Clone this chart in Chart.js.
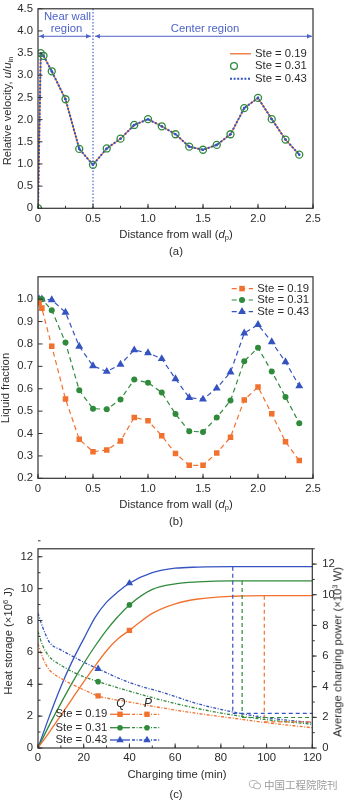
<!DOCTYPE html>
<html>
<head>
<meta charset="utf-8">
<script src="https://cdn.jsdelivr.net/npm/chart.js@4.4.1/dist/chart.umd.min.js"></script>
<style>
    body { margin: 0; background: #fff; width: 346px; height: 800px; position: relative; overflow: hidden;
           font-family: "Liberation Sans", Arial, sans-serif; color: #2b2b2b; }
    .box { position: absolute; left: 0; width: 346px; }
    .t { position: absolute; font-size: 11.3px; white-space: nowrap; transform: translate(-50%, -50%); line-height: 1; }
    .rot { transform: translate(-50%, -50%) rotate(-90deg); }
    sub { font-size: 7.5px; vertical-align: -2px; line-height: 0; }
    sup { font-size: 7.5px; vertical-align: 4px; line-height: 0; }
    .wm { color: #9a9a9a; font-family: "Noto Sans CJK SC", sans-serif; font-size: 10.5px; }
</style>
</head>
<body>
<div class="box" style="top:-3px;height:236px"><canvas id="chartA"></canvas></div>
<div class="box" style="top:265px;height:236px"><canvas id="chartB"></canvas></div>
<div class="box" style="top:532px;height:240px"><canvas id="chartC"></canvas></div>

<div class="t rot" style="left:7.5px;top:111px">Relative velocity, <i>u</i>/<i>u</i><sub>in</sub></div>
<div class="t" style="left:176px;top:235px">Distance from wall (<i>d</i><sub>p</sub>)</div>
<div class="t" style="left:176px;top:252px">(a)</div>

<div class="t rot" style="left:5.5px;top:388px">Liquid fraction</div>
<div class="t" style="left:176px;top:505px">Distance from wall (<i>d</i><sub>p</sub>)</div>
<div class="t" style="left:176px;top:522px">(b)</div>

<div class="t rot" style="left:9px;top:641px">Heat storage (×10<sup>6</sup> J)</div>
<div class="t rot" style="left:338px;top:652px">Average charging power (×10<sup>3</sup> W)</div>
<div class="t" style="left:177px;top:775px">Charging time (min)</div>
<div class="t" style="left:176px;top:795px">(c)</div>

<div class="t wm" style="left:293px;top:785px">
    <svg width="13" height="10" viewBox="0 0 13 10" style="vertical-align:-1px">
        <ellipse cx="5" cy="4.3" rx="4.4" ry="3.6" fill="none" stroke="#a8a8a8" stroke-width="0.9"/>
        <ellipse cx="8.6" cy="6.2" rx="3.6" ry="3" fill="#fff" stroke="#a8a8a8" stroke-width="0.9"/>
    </svg> 中国工程院院刊
</div>

<script>
"use strict";

// ===========================
// DATA
// ===========================

// (a) relative velocity u/u_in vs distance from wall (d_p)
const aDistance = [0, 0.025, 0.05, 0.125, 0.25, 0.375, 0.5, 0.625, 0.75, 0.875, 1.0, 1.125, 1.25, 1.375, 1.5, 1.625, 1.75, 1.875, 2.0, 2.125, 2.25, 2.375];
const aSte019   = [0, 3.49, 3.44, 3.09, 2.46, 1.34, 0.98, 1.35, 1.57, 1.88, 2.01, 1.85, 1.67, 1.39, 1.32, 1.43, 1.67, 2.26, 2.49, 2.01, 1.55, 1.21];
const aSte031   = [0, 3.50, 3.44, 3.09, 2.46, 1.34, 0.98, 1.35, 1.57, 1.88, 2.01, 1.85, 1.67, 1.39, 1.32, 1.43, 1.67, 2.26, 2.49, 2.01, 1.55, 1.21];
const aSte043   = [0, 3.49, 3.44, 3.09, 2.46, 1.34, 0.98, 1.35, 1.57, 1.88, 2.01, 1.85, 1.67, 1.39, 1.32, 1.43, 1.67, 2.26, 2.49, 2.01, 1.55, 1.21];
const aTicksX   = [0, 0.5, 1.0, 1.5, 2.0, 2.5];
const aTicksY   = [0, 0.5, 1.0, 1.5, 2.0, 2.5, 3.0, 3.5, 4.0, 4.5];
const aBoundary = 0.5;     // near wall / center boundary
const aArrowAt  = 3.88;    // level of the region arrows

// (b) liquid fraction vs distance from wall (d_p)
const bDistance = [0.01, 0.035, 0.125, 0.25, 0.375, 0.5, 0.625, 0.75, 0.875, 1.0, 1.125, 1.25, 1.375, 1.5, 1.625, 1.75, 1.875, 2.0, 2.125, 2.25, 2.375];
const bSte019   = [0.983, 0.960, 0.790, 0.554, 0.374, 0.319, 0.326, 0.367, 0.472, 0.457, 0.390, 0.311, 0.258, 0.258, 0.313, 0.383, 0.550, 0.608, 0.488, 0.363, 0.279];
const bSte031   = [1.000, 1.000, 0.951, 0.806, 0.593, 0.511, 0.508, 0.552, 0.641, 0.627, 0.583, 0.487, 0.410, 0.407, 0.472, 0.547, 0.723, 0.783, 0.677, 0.563, 0.446];
const bSte043   = [1.000, 1.000, 0.997, 0.941, 0.789, 0.702, 0.677, 0.709, 0.773, 0.760, 0.734, 0.644, 0.560, 0.553, 0.602, 0.674, 0.848, 0.886, 0.809, 0.720, 0.612];
const bTicksX   = [0, 0.5, 1.0, 1.5, 2.0, 2.5];
const bTicksY   = [0.2, 0.3, 0.4, 0.5, 0.6, 0.7, 0.8, 0.9, 1.0];

// (c) heat storage Q (x10^6 J, left) and average charging power P (x10^3 W, right) vs time (min)
const cQTime  = [0, 5, 10, 15, 20, 25, 30, 35, 40, 50, 60, 70, 85, 100, 120];
const cQ019   = [0, 1.00, 2.05, 3.10, 4.15, 5.15, 6.10, 6.85, 7.38, 8.45, 9.05, 9.35, 9.52, 9.56, 9.56];
const cQ031   = [0, 1.45, 2.80, 4.10, 5.30, 6.40, 7.40, 8.25, 8.98, 9.95, 10.30, 10.42, 10.48, 10.48, 10.48];
const cQ043   = [0, 2.00, 3.85, 5.45, 6.85, 8.20, 9.15, 9.80, 10.34, 11.00, 11.28, 11.35, 11.38, 11.38, 11.38];
const cPTime  = [0, 2, 5, 10, 15, 20, 26.3, 40, 55, 70, 85, 100, 120];
const cP019   = [6.80, 5.90, 5.10, 4.55, 4.15, 3.80, 3.40, 3.00, 2.60, 2.25, 1.95, 1.65, 1.32];
const cP031   = [7.60, 6.70, 5.95, 5.40, 4.98, 4.65, 4.33, 3.71, 3.09, 2.57, 2.16, 1.85, 1.55];
const cP043   = [8.80, 7.90, 6.90, 6.40, 6.00, 5.60, 5.16, 4.27, 3.60, 2.88, 2.36, 1.98, 1.65];
const cQMarkT = 40;
const cPMarkT = 26.3;
const cFullTime = [99, 89.3, 85.2];     // full charge time, Ste 0.19 / 0.31 / 0.43
const cFullQ    = [9.56, 10.48, 11.38];
const cFullP    = [1.70, 1.99, 2.26];
const cTicksX   = [0, 20, 40, 60, 80, 100, 120];
const cTicksQ   = [0, 2, 4, 6, 8, 10, 12];
const cTicksP   = [0, 2, 4, 6, 8, 10, 12];

// ===========================
// STYLE
// ===========================
const ORANGE = "#f2712f";
const GREEN  = "#2f8a3c";
const BLUE   = "#3553c0";
const REGION = "#4d63c9";
const INK    = "#2b2b2b";
const FONT   = "11.3px 'Liberation Sans', Arial, sans-serif";

Chart.defaults.font.family = "'Liberation Sans', Arial, sans-serif";
Chart.defaults.font.size = 11.3;
Chart.defaults.color = INK;

function pts(xs, ys) { return xs.map((x, i) => ({ x: x, y: ys[i] })); }
function fixTicks(list) { return (scale) => { scale.ticks = list.map(v => ({ value: v })); }; }
function fmt1(v) { return v === 0 ? "0" : Number(v).toFixed(1); }

function strokeLine(ctx, x0, y0, x1, y1, color, width, dash) {
    ctx.save();
    ctx.strokeStyle = color; ctx.lineWidth = width; ctx.setLineDash(dash || []);
    ctx.beginPath(); ctx.moveTo(x0, y0); ctx.lineTo(x1, y1); ctx.stroke();
    ctx.restore();
}

function drawMarker(ctx, style, x, y, r, color, hollow) {
    ctx.save();
    ctx.beginPath();
    if (style === "rect") {
        const s = Math.SQRT1_2 * r;
        ctx.rect(x - s, y - s, 2 * s, 2 * s);
    } else if (style === "triangle") {
        let rad = 0;
        for (let k = 0; k < 3; k++) {
            const px = x + Math.sin(rad) * r, py = y - Math.cos(rad) * r;
            k === 0 ? ctx.moveTo(px, py) : ctx.lineTo(px, py);
            rad += 2 * Math.PI / 3;
        }
        ctx.closePath();
    } else {
        ctx.arc(x, y, r, 0, Math.PI * 2);
    }
    if (hollow) { ctx.strokeStyle = color; ctx.lineWidth = 1.3; ctx.stroke(); }
    else { ctx.fillStyle = color; ctx.fill(); }
    ctx.restore();
}

function drawText(ctx, str, x, y, color, align, font) {
    ctx.save();
    ctx.font = font || FONT; ctx.fillStyle = color || INK;
    ctx.textAlign = align || "left"; ctx.textBaseline = "middle";
    ctx.fillText(str, x, y);
    ctx.restore();
}

function arrowHead(ctx, x, y, dir, color) {
    ctx.save();
    ctx.fillStyle = color;
    ctx.beginPath();
    ctx.moveTo(x, y); ctx.lineTo(x - dir * 5, y - 2.2); ctx.lineTo(x - dir * 5, y + 2.2);
    ctx.closePath(); ctx.fill();
    ctx.restore();
}

// frame + inward tick marks (Origin style)
const framePlugin = {
    id: "frame",
    afterDraw(chart, args, opts) {
        const { ctx, chartArea: a } = chart;
        ctx.save();
        ctx.strokeStyle = "#333"; ctx.lineWidth = 1.2;
        ctx.strokeRect(a.left, a.top, a.right - a.left, a.bottom - a.top);
        ctx.lineWidth = 1;
        (opts.axes || []).forEach(ax => {
            const s = chart.scales[ax.id];
            const mark = (v, len) => {
                const p = s.getPixelForValue(v);
                ctx.beginPath();
                if (ax.side === "bottom")     { ctx.moveTo(p, a.bottom); ctx.lineTo(p, a.bottom - len); }
                else if (ax.side === "left")  { ctx.moveTo(a.left, p);   ctx.lineTo(a.left + len, p); }
                else                          { ctx.moveTo(a.right, p);  ctx.lineTo(a.right + len, p); }
                ctx.stroke();
            };
            if (ax.minor) {
                const n = Math.round((s.max - s.min) / ax.minor);
                for (let i = 0; i <= n; i++) mark(s.min + i * ax.minor, 2.5);
            }
            s.ticks.forEach(t => mark(t.value, 4.5));
        });
        ctx.restore();
    }
};

function baseOptions(padTop) {
    return {
        responsive: true,
        maintainAspectRatio: false,
        animation: false,
        events: [],
        layout: { padding: { top: padTop, right: 33, left: 0, bottom: 0 } },
        plugins: { legend: { display: false }, tooltip: { enabled: false } },
        elements: { line: { tension: 0 } }
    };
}

function axisX(min, max, ticks, cb, height, pad) {
    return {
        type: "linear", min: min, max: max,
        afterBuildTicks: fixTicks(ticks),
        afterFit: (s) => { s.height = height; },
        grid: { display: false, drawTicks: false },
        border: { display: false },
        ticks: { callback: cb, padding: pad, maxRotation: 0, color: INK }
    };
}

function axisY(min, max, ticks, cb, pad, position, width) {
    return {
        type: "linear", min: min, max: max, position: position || "left",
        afterBuildTicks: fixTicks(ticks),
        afterFit: (s) => { s.width = width || 38; },
        grid: { display: false, drawTicks: false },
        border: { display: false },
        ticks: { callback: cb, padding: pad, color: INK }
    };
}

// ===========================
// (a) RELATIVE VELOCITY
// ===========================
const aExtras = {
    id: "aExtras",
    afterDatasetsDraw(chart) {
        const { ctx, chartArea: a, scales: { x, y } } = chart;
        const xb = x.getPixelForValue(aBoundary);
        strokeLine(ctx, xb, a.top, xb, a.bottom, REGION, 1.2, [1.5, 1.8]);

        const ya = y.getPixelForValue(aArrowAt);
        strokeLine(ctx, a.left + 1, ya, xb - 2, ya, REGION, 1);
        arrowHead(ctx, a.left + 1, ya, -1, REGION);
        arrowHead(ctx, xb - 2, ya, 1, REGION);
        strokeLine(ctx, xb + 2, ya, a.right - 1, ya, REGION, 1);
        arrowHead(ctx, xb + 2, ya, -1, REGION);
        arrowHead(ctx, a.right - 1, ya, 1, REGION);

        drawText(ctx, "Near wall", (a.left + xb) / 2 + 2, a.top + 8.5, REGION, "center");
        drawText(ctx, "region", (a.left + xb) / 2 + 1, a.top + 20.5, REGION, "center");
        drawText(ctx, "Center region", (xb + a.right) / 2 + 2, a.top + 20.5, REGION, "center");

        // legend
        const rows = [a.top + 45, a.top + 57.3, a.top + 70];
        const x0 = a.right - 83, x1 = a.right - 62, tx = a.right - 58;
        strokeLine(ctx, x0, rows[0], x1, rows[0], ORANGE, 1.3);
        drawText(ctx, "Ste = 0.19", tx, rows[0]);
        drawMarker(ctx, "circle", x0 + 4, rows[1], 3.4, GREEN, true);
        drawText(ctx, "Ste = 0.31", tx, rows[1]);
        strokeLine(ctx, x0, rows[2], x1, rows[2], BLUE, 2, [2, 1.6]);
        drawText(ctx, "Ste = 0.43", tx, rows[2]);
    }
};

const optA = baseOptions(7.7);
optA.scales = {
    x: axisX(0, 2.5, aTicksX, fmt1, 24.7, 4),
    y: axisY(0, 4.5, aTicksY, fmt1, 5)
};
optA.plugins.frame = { axes: [{ id: "x", side: "bottom", minor: 0.25 }, { id: "y", side: "left" }] };

new Chart(document.getElementById("chartA"), {
    type: "line",
    data: {
        datasets: [
            { label: "Ste = 0.31", data: pts(aDistance, aSte031), showLine: false, order: 0,
              pointRadius: 3.5, pointBorderWidth: 1.3, pointBorderColor: GREEN, pointBackgroundColor: "rgba(255,255,255,0)" },
            { label: "Ste = 0.43", data: pts(aDistance, aSte043), order: 1,
              borderColor: BLUE, borderWidth: 2, borderDash: [2, 1.6],
              pointRadius: 1.3, pointBorderWidth: 0, pointBackgroundColor: BLUE },
            { label: "Ste = 0.19", data: pts(aDistance, aSte019), order: 2,
              borderColor: ORANGE, borderWidth: 1.3, pointRadius: 0 }
        ]
    },
    options: optA,
    plugins: [framePlugin, aExtras]
});

// ===========================
// (b) LIQUID FRACTION
// ===========================
const bSeries = [
    { label: "Ste = 0.19", values: bSte019, color: ORANGE, style: "rect",     r: 3.9 },
    { label: "Ste = 0.31", values: bSte031, color: GREEN,  style: "circle",   r: 3.0 },
    { label: "Ste = 0.43", values: bSte043, color: BLUE,   style: "triangle", r: 4.6 }
];

const bExtras = {
    id: "bExtras",
    afterDatasetsDraw(chart) {
        const { ctx, chartArea: a } = chart;
        const rows = [a.top + 11.8, a.top + 23.2, a.top + 34.8];
        bSeries.forEach((s, i) => {
            strokeLine(ctx, a.right - 81.3, rows[i], a.right - 60, rows[i], s.color, 1.2, [5, 3.5]);
            drawMarker(ctx, s.style, a.right - 71, rows[i], s.r, s.color, false);
            drawText(ctx, s.label, a.right - 55.7, rows[i]);
        });
    }
};

const optB = baseOptions(7.5);
optB.scales = {
    x: axisX(0, 2.5, bTicksX, fmt1, 22.7, 4),
    y: axisY(0.2, 1.1, bTicksY, v => Number(v).toFixed(1), 5)
};
optB.plugins.frame = { axes: [{ id: "x", side: "bottom", minor: 0.25 }, { id: "y", side: "left" }] };

new Chart(document.getElementById("chartB"), {
    type: "line",
    data: {
        datasets: bSeries.map(s => ({
            label: s.label,
            data: pts(bDistance, s.values),
            borderColor: s.color, borderWidth: 1.2, borderDash: [5, 3.5],
            pointStyle: s.style, pointRadius: s.r, pointBorderWidth: 0,
            pointBackgroundColor: s.color
        }))
    },
    options: optB,
    plugins: [framePlugin, bExtras]
});

// ===========================
// (c) HEAT STORAGE / CHARGING POWER
// ===========================
const cSeries = [
    { label: "Ste = 0.19", q: cQ019, p: cP019, color: ORANGE, style: "rect",     r: 3.8 },
    { label: "Ste = 0.31", q: cQ031, p: cP031, color: GREEN,  style: "circle",   r: 2.8 },
    { label: "Ste = 0.43", q: cQ043, p: cP043, color: BLUE,   style: "triangle", r: 4.3 }
];
const P_DASH = [3, 1.6, 1, 1.6];

const cExtras = {
    id: "cExtras",
    afterDatasetsDraw(chart) {
        const { ctx, chartArea: a, scales: { x, y, y1 } } = chart;
        cSeries.forEach((s, i) => {
            const xf = x.getPixelForValue(cFullTime[i]);
            const yq = y.getPixelForValue(cFullQ[i]);
            const yp = y1.getPixelForValue(cFullP[i]);
            strokeLine(ctx, xf, yq, xf, yp, s.color, 1.2, [4, 3]);
            strokeLine(ctx, xf, yp, a.right, yp, s.color, 1.2, [4, 3]);
        });

        // legend
        const rows = [a.bottom - 33.7, a.bottom - 20.3, a.bottom - 8];
        const L = a.left;
        drawText(ctx, "Q", L + 83, a.bottom - 44, INK, "center", "italic 12px 'Liberation Sans', Arial, sans-serif");
        drawText(ctx, "P", L + 110, a.bottom - 44, INK, "center", "italic 12px 'Liberation Sans', Arial, sans-serif");
        cSeries.forEach((s, i) => {
            drawText(ctx, s.label, L + 69.3, rows[i], INK, "right");
            strokeLine(ctx, L + 72, rows[i], L + 92, rows[i], s.color, 1.3);
            drawMarker(ctx, s.style, L + 82, rows[i], s.r, s.color, false);
            strokeLine(ctx, L + 94, rows[i], L + 122, rows[i], s.color, 1.3, P_DASH);
            drawMarker(ctx, s.style, L + 109, rows[i], s.r, s.color, false);
        });
    }
};

const optC = baseOptions(8);
optC.layout.padding.right = 0;
optC.elements.line.cubicInterpolationMode = "monotone";
optC.scales = {
    x:  axisX(0, 120, cTicksX, v => String(v), 24, 3.5),
    y:  axisY(0, 12.5, cTicksQ, v => String(v), 5),
    y1: axisY(0, 13, cTicksP, v => String(v), 10, "right", 33.7)
};
optC.plugins.frame = { axes: [
    { id: "x",  side: "bottom", minor: 10 },
    { id: "y",  side: "left",   minor: 1 },
    { id: "y1", side: "right",  minor: 1 }
] };

const cDatasets = [];
cSeries.forEach(s => {
    cDatasets.push({
        label: s.label + " Q", yAxisID: "y",
        data: pts(cQTime, s.q),
        borderColor: s.color, borderWidth: 1.3,
        pointStyle: s.style, pointBorderWidth: 0, pointBackgroundColor: s.color,
        pointRadius: ctx => (cQTime[ctx.dataIndex] === cQMarkT ? s.r : 0)
    });
    cDatasets.push({
        label: s.label + " P", yAxisID: "y1",
        data: pts(cPTime, s.p),
        borderColor: s.color, borderWidth: 1.3, borderDash: P_DASH,
        pointStyle: s.style, pointBorderWidth: 0, pointBackgroundColor: s.color,
        pointRadius: ctx => (cPTime[ctx.dataIndex] === cPMarkT ? s.r : 0)
    });
});

new Chart(document.getElementById("chartC"), {
    type: "line",
    data: { datasets: cDatasets },
    options: optC,
    plugins: [framePlugin, cExtras]
});
</script>
</body>
</html>
